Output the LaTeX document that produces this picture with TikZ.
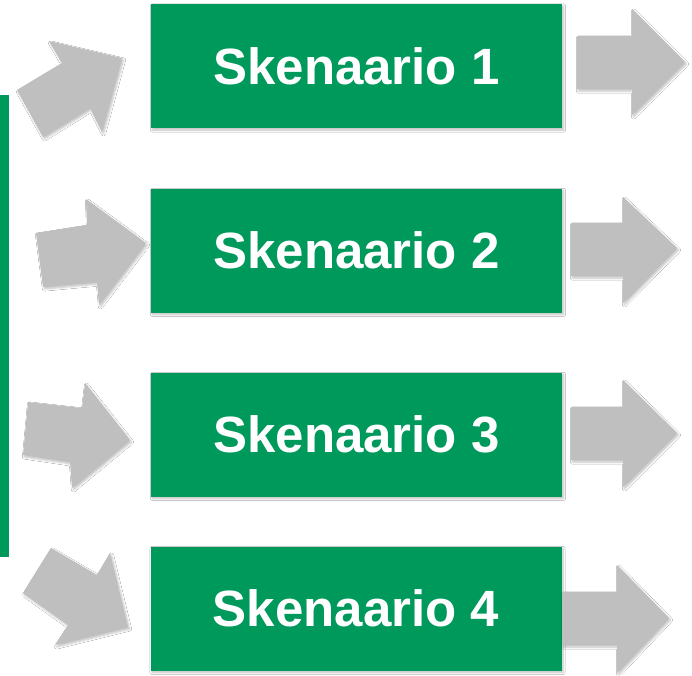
\documentclass[tikz,border=0pt]{standalone}
\usepackage{fontspec}
\setmainfont{Liberation Sans}
\usetikzlibrary{shadows.blur}
\definecolor{sgreen}{RGB}{0,153,92}
\definecolor{sgray}{RGB}{191,191,191}
\begin{document}
\begin{tikzpicture}[x=1pt,y=-1pt,
  scen/.style={fill=sgreen, minimum width=411pt, minimum height=124pt, inner sep=0pt,
    text=white, font=\fontsize{51}{60}\selectfont\bfseries,
    blur shadow={shadow xshift=1.5pt, shadow yshift=-2pt, shadow blur steps=6, shadow opacity=25}},
  barrow/.style={fill=sgray,
    blur shadow={shadow xshift=1.5pt, shadow yshift=-2pt, shadow blur steps=6, shadow opacity=25}}]
\useasboundingbox (0,0) rectangle (692,675);
\fill[white] (0,0) rectangle (692,675);
% left bar
\node[fill=sgreen, minimum width=9pt, minimum height=462pt, inner sep=0pt, anchor=north west] (bar) at (0,95) {};
% scenario boxes
\node[scen] (s1) at (356.5,66) {\raisebox{-3pt}{Skenaario 1}};
\node[scen] (s2) at (356.5,250.5) {\raisebox{-3pt}{Skenaario 2}};
\node[scen] (s3) at (356.5,434.5) {\raisebox{-3pt}{Skenaario 3}};
\node[scen] (s4) at (356,608.5) {\raisebox{-3pt}{Skenaario 4}};
% left arrows
\fill[barrow] (122,58) -- (49,41) -- (62,63) -- (17,90) -- (43,137) -- (90,108) -- (102,132) -- cycle;
\fill[barrow] (146,243) -- (86,199) -- (87,225) -- (36,233) -- (43,287) -- (97,282) -- (99,305) -- cycle;
\fill[barrow] (130,440) -- (85,383) -- (82,408) -- (28,402) -- (23,455) -- (70,462) -- (72,488) -- cycle;
\fill[barrow] (128,627) -- (110,553) -- (97,575) -- (51,548) -- (23,593) -- (68,625) -- (55,645) -- cycle;
% right arrows
\fill[barrow] (577,36) -- (632,36) -- (632,9) -- (685,62) -- (632,115) -- (632,89) -- (577,89) -- cycle;
\fill[barrow] (571,223) -- (623,223) -- (623,197) -- (677,248) -- (623,303) -- (623,276) -- (571,276) -- cycle;
\fill[barrow] (571,407) -- (623,407) -- (623,380) -- (677,433) -- (623,487) -- (623,460) -- (571,460) -- cycle;
\fill[barrow] (562,592) -- (617,592) -- (617,565) -- (669,618) -- (617,673) -- (617,645) -- (562,645) -- cycle;
\end{tikzpicture}
\end{document}
